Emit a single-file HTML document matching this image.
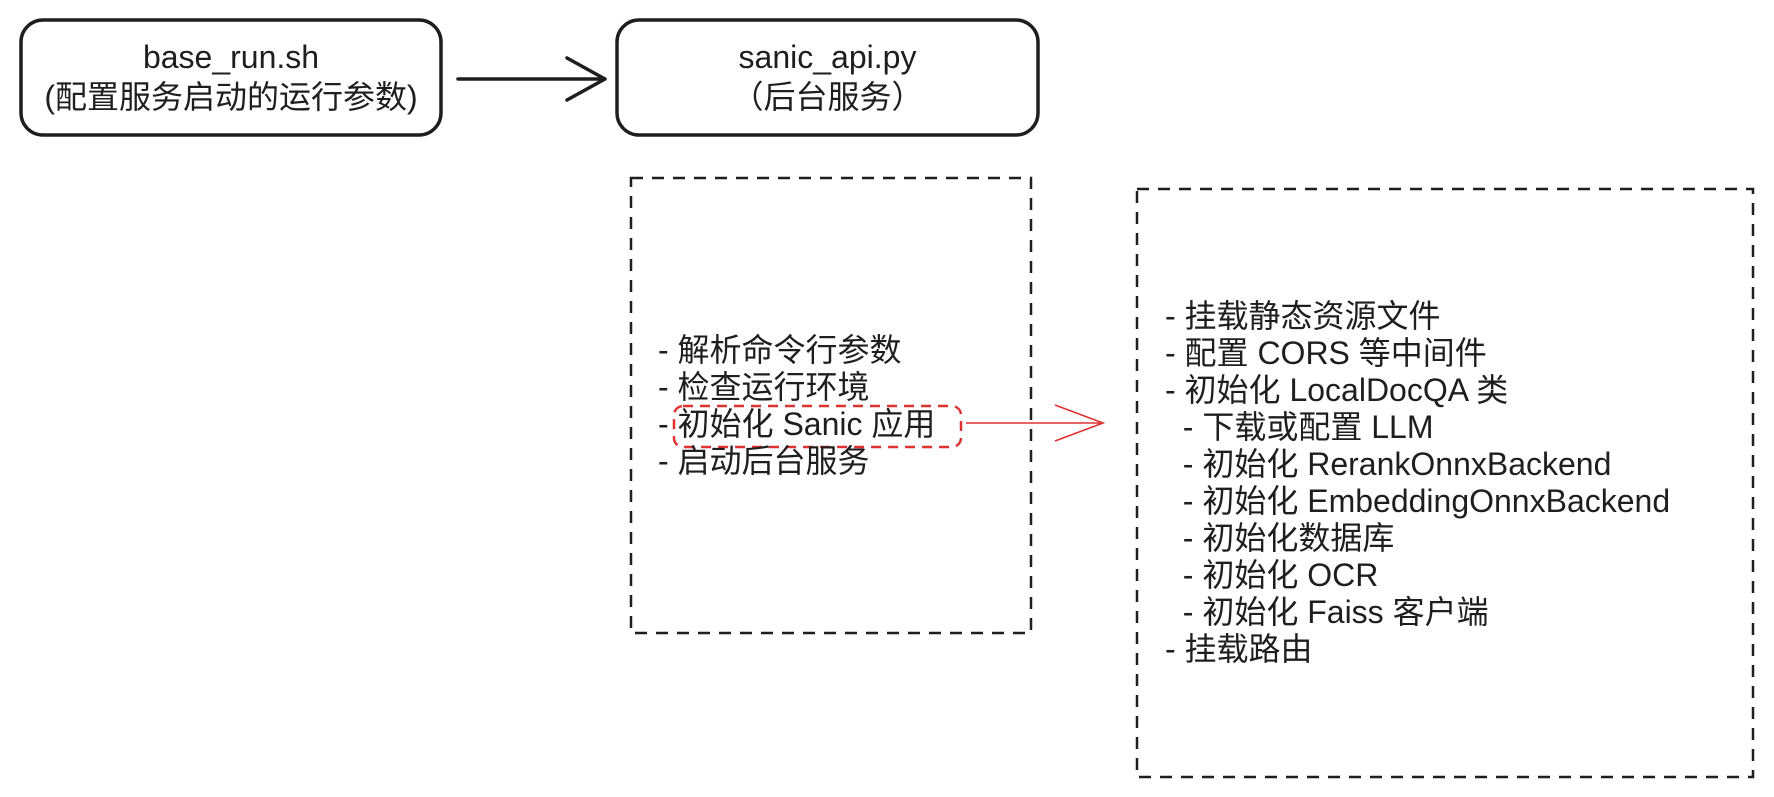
<!DOCTYPE html>
<html><head><meta charset="utf-8"><style>
body{margin:0;width:1774px;height:797px;background:#fff;position:relative;overflow:hidden;font-family:"Liberation Sans","Noto Sans CJK SC",sans-serif;color:#1e1e1e}
.t{position:absolute;white-space:pre;font-size:32px;line-height:37px}
.c{position:absolute;text-align:center;font-size:32px;line-height:40px}
</style></head><body>
<svg width="1774" height="797" style="position:absolute;left:0;top:0">
<rect x="21" y="20" width="420" height="115" rx="22" fill="none" stroke="#1e1e1e" stroke-width="3.5"/>
<rect x="617" y="20" width="421" height="115" rx="22" fill="none" stroke="#1e1e1e" stroke-width="3.5"/>
<path d="M458 79 L605 79 M567 58 L605 79 L567 100" fill="none" stroke="#1e1e1e" stroke-width="3.5" stroke-linecap="round" stroke-linejoin="round"/>
<rect x="631" y="178" width="400" height="455" fill="none" stroke="#1e1e1e" stroke-width="2.5" stroke-dasharray="12 9"/>
<rect x="1137" y="189" width="616" height="588" fill="none" stroke="#1e1e1e" stroke-width="2.5" stroke-dasharray="12 9"/>
<rect x="674" y="406" width="287" height="41" rx="9" fill="none" stroke="#e03131" stroke-width="2.5" stroke-dasharray="10 7"/>
<path d="M966 423 L1103 423 M1055 405 L1103 423 L1055 441" fill="none" stroke="#e03131" stroke-width="1.6"/>
</svg>
<div class="c" style="left:21px;top:37px;width:420px">base_run.sh<br>(配置服务启动的运行参数)</div>
<div class="c" style="left:617px;top:37px;width:421px">sanic_api.py<br>（后台服务）</div>
<div class="t" style="left:658px;top:332px">- 解析命令行参数
- 检查运行环境
- 初始化 Sanic 应用
- 启动后台服务</div>
<div class="t" style="left:1165px;top:298px">- 挂载静态资源文件
- 配置 CORS 等中间件
- 初始化 LocalDocQA 类
  - 下载或配置 LLM
  - 初始化 RerankOnnxBackend
  - 初始化 EmbeddingOnnxBackend
  - 初始化数据库
  - 初始化 OCR
  - 初始化 Faiss 客户端
- 挂载路由</div>
</body></html>
